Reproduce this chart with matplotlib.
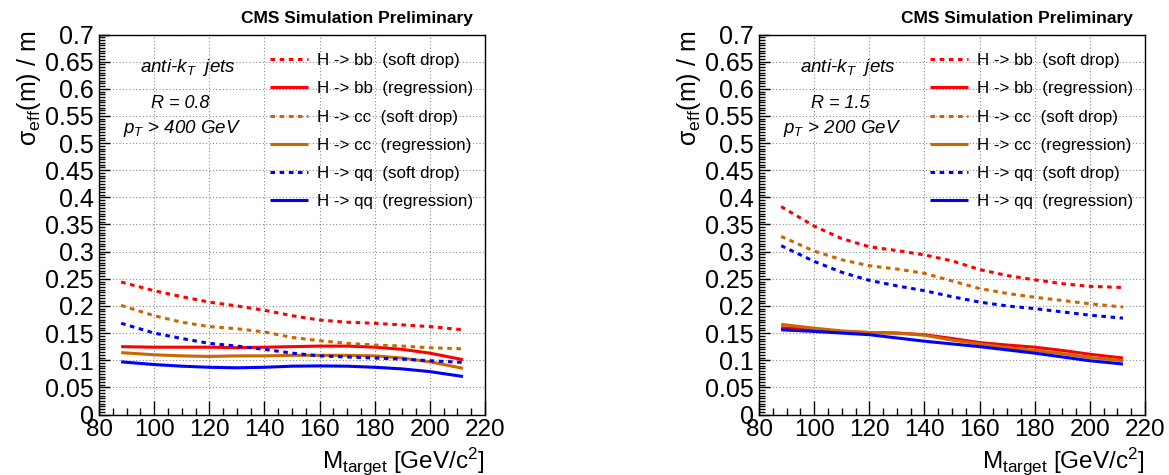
import matplotlib
matplotlib.use("Agg")
import matplotlib.pyplot as plt
from matplotlib.ticker import MultipleLocator, FuncFormatter

plt.rcParams['font.family'] = ['Liberation Sans', 'DejaVu Sans']
plt.rcParams['mathtext.fontset'] = 'custom'
plt.rcParams['mathtext.rm'] = 'Liberation Sans'
plt.rcParams['mathtext.it'] = 'Liberation Sans:italic'
plt.rcParams['mathtext.bf'] = 'Liberation Sans:bold'

# Target mass points [GeV/c^2]
m_target = [88, 100, 110, 120, 130, 140, 150, 160, 170, 180, 190, 200, 212]

# Effective mass resolution, anti-kT R = 0.8, pT > 400 GeV
r08_bb_sd = [0.244, 0.228, 0.217, 0.207, 0.200, 0.192, 0.182, 0.174, 0.170, 0.168, 0.165, 0.162, 0.156]
r08_bb_reg = [0.125, 0.124, 0.124, 0.124, 0.123, 0.124, 0.125, 0.126, 0.126, 0.124, 0.120, 0.113, 0.101]
r08_cc_sd = [0.201, 0.182, 0.170, 0.162, 0.158, 0.152, 0.142, 0.136, 0.131, 0.128, 0.126, 0.123, 0.121]
r08_cc_reg = [0.114, 0.110, 0.108, 0.107, 0.108, 0.108, 0.109, 0.109, 0.109, 0.108, 0.104, 0.097, 0.085]
r08_qq_sd = [0.168, 0.150, 0.140, 0.131, 0.126, 0.120, 0.113, 0.108, 0.106, 0.104, 0.102, 0.099, 0.096]
r08_qq_reg = [0.097, 0.092, 0.089, 0.087, 0.086, 0.087, 0.089, 0.0895, 0.089, 0.087, 0.084, 0.079, 0.070]

# Effective mass resolution, anti-kT R = 1.5, pT > 200 GeV
r15_bb_sd = [0.383, 0.347, 0.324, 0.309, 0.302, 0.294, 0.283, 0.267, 0.256, 0.248, 0.241, 0.236, 0.234]
r15_bb_reg = [0.160, 0.156, 0.152, 0.151, 0.150, 0.147, 0.140, 0.1325, 0.128, 0.124, 0.118, 0.111, 0.104]
r15_cc_sd = [0.328, 0.301, 0.285, 0.274, 0.268, 0.260, 0.246, 0.232, 0.223, 0.216, 0.210, 0.204, 0.198]
r15_cc_reg = [0.166, 0.159, 0.154, 0.151, 0.150, 0.146, 0.137, 0.130, 0.123, 0.118, 0.112, 0.105, 0.099]
r15_qq_sd = [0.311, 0.282, 0.262, 0.247, 0.237, 0.228, 0.217, 0.207, 0.200, 0.195, 0.189, 0.183, 0.1775]
r15_qq_reg = [0.156, 0.153, 0.150, 0.147, 0.141, 0.135, 0.130, 0.125, 0.119, 0.113, 0.106, 0.099, 0.093]

series_labels = [
    "H -> bb  (soft drop)", "H -> bb  (regression)",
    "H -> cc  (soft drop)", "H -> cc  (regression)",
    "H -> qq  (soft drop)", "H -> qq  (regression)",
]
series_colors = ["#ff0000", "#ff0000", "#cc6600", "#cc6600", "#0000ff", "#0000ff"]
series_dashed = [True, False, True, False, True, False]

panels = [
    dict(curves=[r08_bb_sd, r08_bb_reg, r08_cc_sd, r08_cc_reg, r08_qq_sd, r08_qq_reg],
         radius="R = 0.8", ptcut="$p_{T}$ > 400 GeV", left_px=99.1),
    dict(curves=[r15_bb_sd, r15_bb_reg, r15_cc_sd, r15_cc_reg, r15_qq_sd, r15_qq_reg],
         radius="R = 1.5", ptcut="$p_{T}$ > 200 GeV", left_px=759.1),
]

W, H = 1169, 475
fig = plt.figure(figsize=(W / 100, H / 100), dpi=100)
fig.patch.set_facecolor("white")

fmt = FuncFormatter(lambda v, p: f"{v:g}")

for panel in panels:
    lp = panel["left_px"]
    ax = fig.add_axes([lp / W, 60.5 / H, 385.9 / W, 380 / H])
    ax.set_xlim(80, 220)
    ax.set_ylim(0, 0.7)
    ax.xaxis.set_major_locator(MultipleLocator(20))
    ax.xaxis.set_minor_locator(MultipleLocator(5))
    ax.yaxis.set_major_locator(MultipleLocator(0.05))
    ax.yaxis.set_minor_locator(MultipleLocator(0.005))
    ax.yaxis.set_major_formatter(fmt)
    ax.tick_params(which='both', direction='in', top=False, right=False, width=1, colors='black')
    ax.tick_params(axis='x', which='major', length=10, labelsize=17.5, pad=3)
    ax.tick_params(axis='x', which='minor', length=5)
    ax.tick_params(axis='y', which='major', length=8, labelsize=18, pad=4)
    ax.tick_params(axis='y', which='minor', length=4)
    for sp in ax.spines.values():
        sp.set_linewidth(1.0)
    ax.grid(True, which='major', color='#8a8a8a', lw=0.8, ls=(0, (1, 2)))
    ax.set_axisbelow(True)

    handles = []
    for vals, lab, col, dashed in zip(panel["curves"], series_labels, series_colors, series_dashed):
        ls = (0, (1.5, 1.5)) if dashed else '-'
        ln, = ax.plot(m_target, vals, color=col, lw=2.2, ls=ls, label=lab,
                      solid_capstyle='butt', dash_capstyle='butt')
        handles.append(ln)

    ax.legend(handles=handles, loc='upper left', bbox_to_anchor=(0.443, 0.951),
              frameon=False, fontsize=12.2, handlelength=2.25, handletextpad=0.5,
              labelspacing=0.78, borderpad=0, borderaxespad=0)

    ax.text(0.230, 0.902, "anti-k$_{T}$  jets", transform=ax.transAxes, fontsize=13.5,
            fontstyle='italic', ha='center', va='baseline')
    ax.text(0.2097, 0.806, panel["radius"], transform=ax.transAxes, fontsize=13,
            fontstyle='italic', ha='center', va='baseline')
    ax.text(0.214, 0.740, panel["ptcut"], transform=ax.transAxes, fontsize=13.5,
            fontstyle='italic', ha='center', va='baseline')

    fig.text((lp - 70) / W, 1 - 31 / H, "σ$_{\\mathrm{eff}}$(m) / m", rotation=90,
             fontsize=18, ha='center', va='top')
    fig.text((lp + 386) / W, 7 / H, "M$_{\\mathrm{target}}$ [GeV/c$^{2}$]",
             fontsize=17.5, ha='right', va='baseline')
    fig.text((lp + 374) / W, 1 - 18 / H, "CMS Simulation Preliminary",
             fontsize=12.5, fontweight='bold', ha='right', va='center')

fig.savefig("out.png", dpi=100)
